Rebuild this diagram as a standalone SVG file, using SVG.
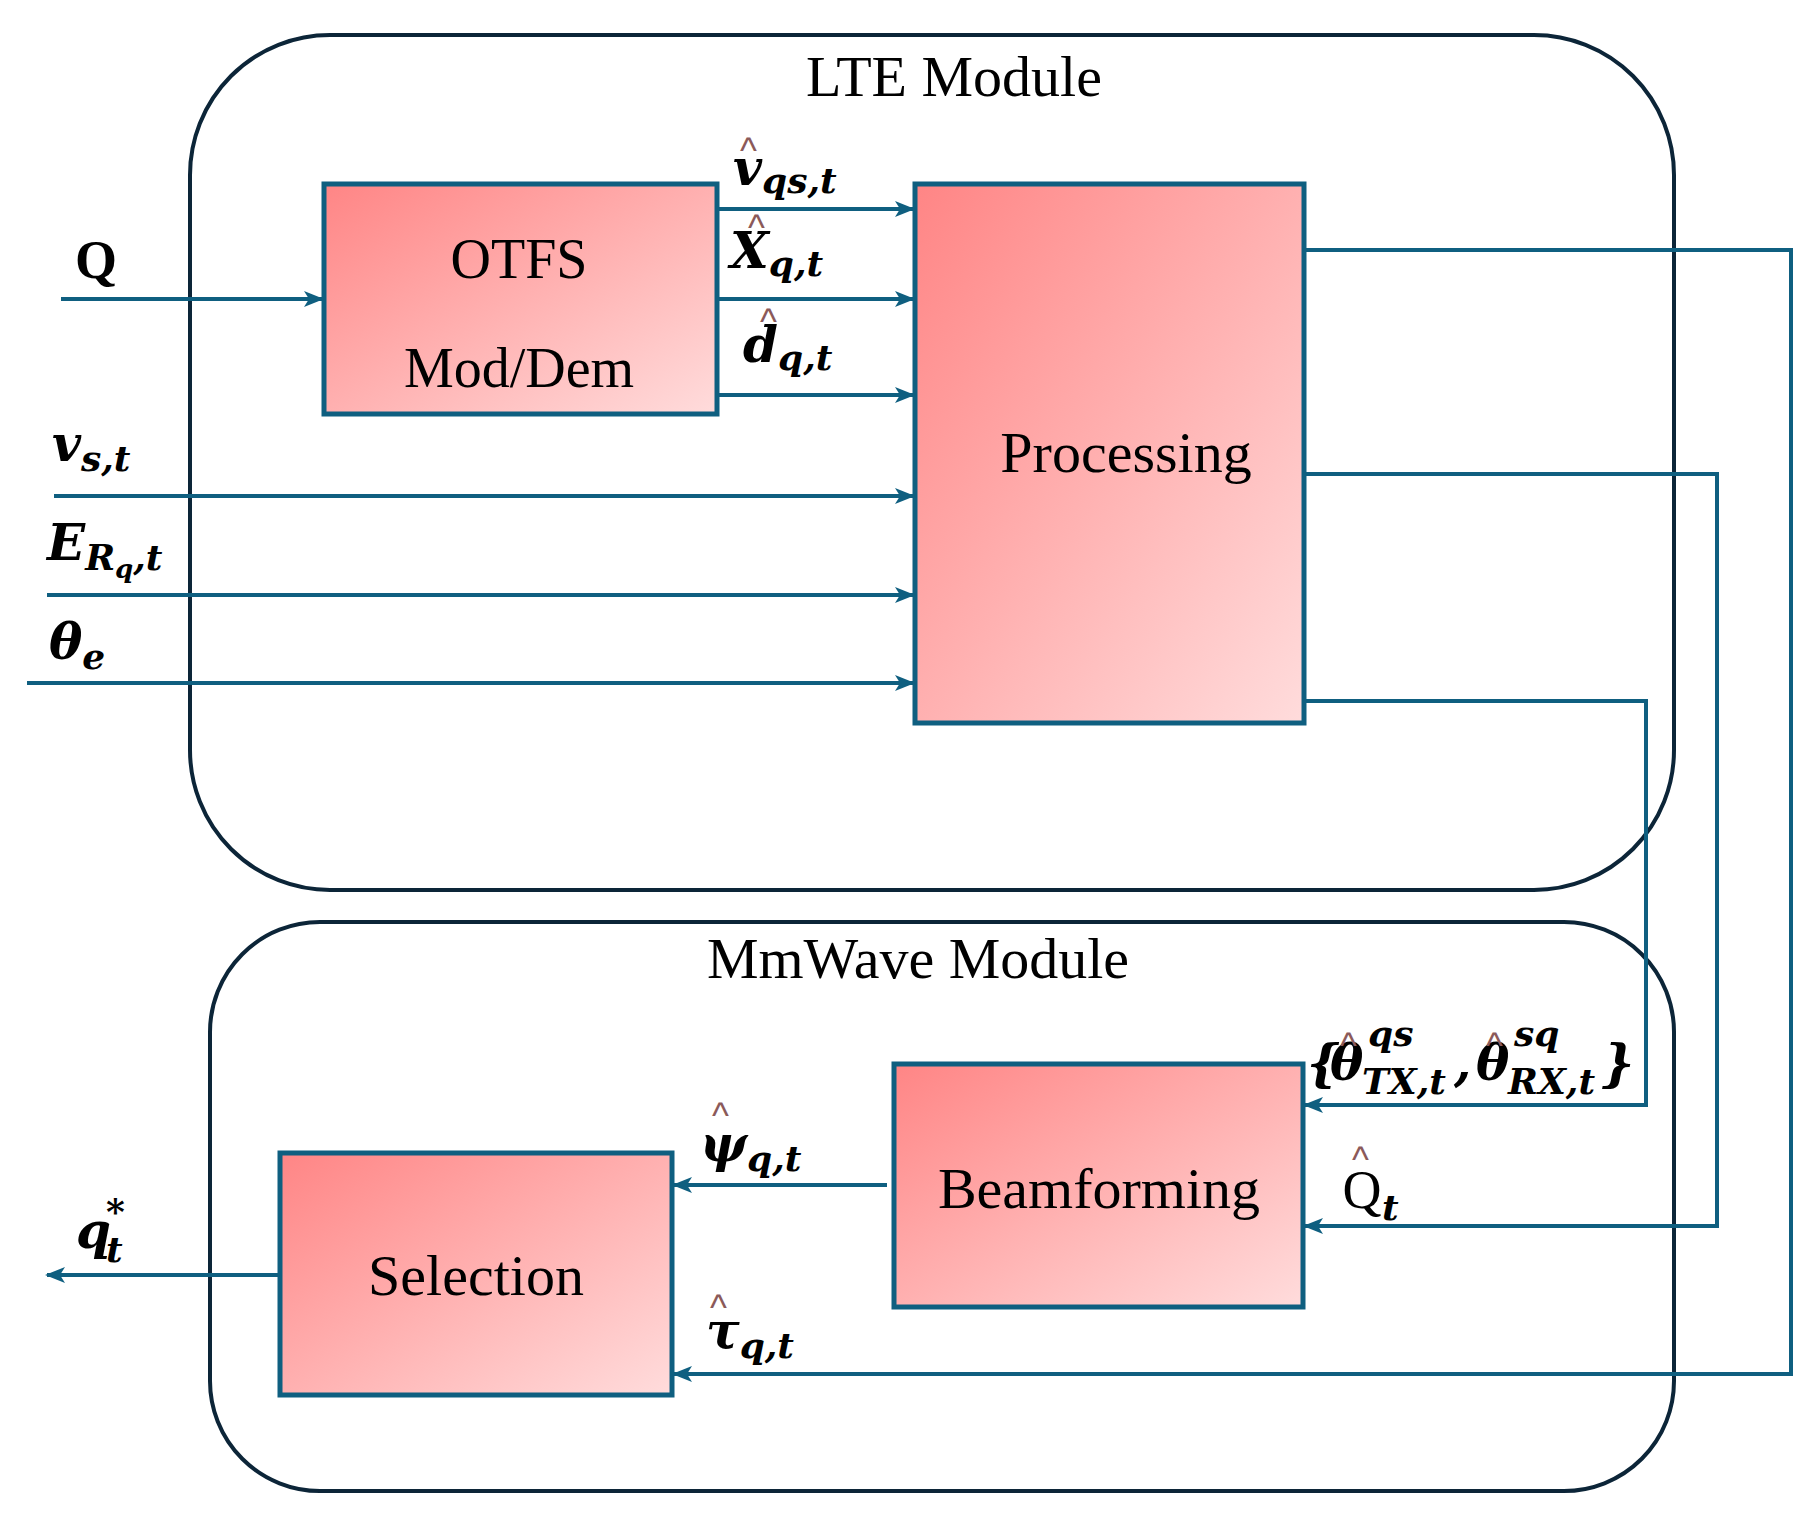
<svg xmlns="http://www.w3.org/2000/svg" width="1820" height="1517" viewBox="0 0 1820 1517">
<defs>
<linearGradient id="g" x1="0" y1="0" x2="1" y2="1"><stop offset="0" stop-color="#ff8585"/><stop offset="1" stop-color="#ffdcdc"/></linearGradient>
<marker id="b" markerWidth="20" markerHeight="20" refX="18" refY="10" orient="auto" markerUnits="userSpaceOnUse" viewBox="0 0 20 20"><path d="M0,2 L20,10 L0,18 L5,10 Z" fill="#0f5f80"/></marker>
</defs>
<style>
.mod{fill:none;stroke:#0c2538;stroke-width:4}
.box{fill:url(#g);stroke:#0f5f80;stroke-width:5}
.t{font-family:"Liberation Serif",serif;fill:#000;text-anchor:middle}
.c{fill:none;stroke:#0f5f80;stroke-width:4}
.m{font-family:"DejaVu Serif",serif;font-style:italic;font-weight:bold;fill:#000;font-size:50px}
.s{font-size:36px}
.h{font-family:"Liberation Sans",sans-serif;fill:#8b5a5a;font-size:36px}
</style>
<rect fill="#fff" width="1820" height="1517"/>
<g id="lte"><rect class="mod" x="190" y="35" width="1484" height="855" rx="140"/><text class="t" x="954" y="96" font-size="58">LTE Module</text></g>
<g id="mmwave"><rect class="mod" x="210" y="922" width="1464" height="569" rx="110"/><text class="t" x="918" y="978" font-size="58">MmWave Module</text></g>
<g id="otfs"><rect class="box" x="324" y="184" width="393" height="230"/><text class="t" x="519" y="278" font-size="56">OTFS</text><text class="t" x="519" y="387" font-size="56">Mod/Dem</text></g>
<g id="processing"><rect class="box" x="915" y="184" width="389" height="539"/><text class="t" x="1126" y="472" font-size="58">Processing</text></g>
<g id="beamforming"><rect class="box" x="894" y="1064" width="409" height="243"/><text class="t" x="1099" y="1208" font-size="58">Beamforming</text></g>
<g id="selection"><rect class="box" x="280" y="1153" width="392" height="242"/><text class="t" x="476" y="1295" font-size="58">Selection</text></g>
<g id="connectors">
<path class="c" marker-end="url(#b)" d="M61,299 H322"/>
<path class="c" marker-end="url(#b)" d="M717,209 H913"/>
<path class="c" marker-end="url(#b)" d="M717,299 H913"/>
<path class="c" marker-end="url(#b)" d="M717,395 H913"/>
<path class="c" marker-end="url(#b)" d="M54,496 H913"/>
<path class="c" marker-end="url(#b)" d="M47,595 H913"/>
<path class="c" marker-end="url(#b)" d="M27,683 H913"/>
<path class="c" marker-end="url(#b)" d="M1304,250 H1791 V1374 H674"/>
<path class="c" marker-end="url(#b)" d="M1304,474 H1717 V1226 H1305"/>
<path class="c" marker-end="url(#b)" d="M1304,701 H1646 V1105 H1305"/>
<path class="c" marker-end="url(#b)" d="M887,1185 H674"/>
<path class="c" marker-end="url(#b)" d="M280,1275 H47"/>
</g>
<g id="labels">
<text class="t" x="96" y="278" font-size="54" font-weight="bold">Q</text>
<text class="m" x="733" y="185">v<tspan class="s" dy="8">qs,t</tspan></text><text class="h" x="740" y="163">^</text>
<text class="m" x="730" y="268">X<tspan class="s" dy="8">q,t</tspan></text><text class="h" x="748" y="240">^</text>
<text class="m" x="743" y="362">d<tspan class="s" dy="8">q,t</tspan></text><text class="h" x="760" y="334">^</text>
<text class="m" x="52" y="461">v<tspan class="s" dy="10">s,t</tspan></text>
<text class="m" x="47" y="560">E<tspan class="s" dy="10">R</tspan><tspan font-size="26px" dy="8">q</tspan><tspan class="s" dy="-8">,t</tspan></text>
<text class="m" x="49" y="659">θ<tspan class="s" dy="10">e</tspan></text>
<text class="m" x="1307" y="1080">{</text>
<text class="m" x="1330" y="1080">θ</text><text class="h" x="1340" y="1058" fill="#000">^</text>
<text class="m s" x="1368" y="1046">qs</text><text class="m s" x="1362" y="1094">TX,t</text><text class="m" x="1454" y="1080">,</text>
<text class="m" x="1476" y="1080">θ</text><text class="h" x="1486" y="1058" fill="#000">^</text>
<text class="m s" x="1514" y="1046">sq</text><text class="m s" x="1508" y="1094">RX,t</text>
<text class="m" x="1602" y="1080">}</text>
<text class="t" x="1362" y="1208" font-size="54">Q</text><text class="m s" x="1382" y="1220">t</text><text class="h" x="1352" y="1172">^</text>
<text class="m" x="700" y="1161">ψ<tspan class="s" dy="10">q,t</tspan></text><text class="h" x="712" y="1128">^</text>
<text class="m" x="706" y="1348">τ<tspan class="s" dy="10">q,t</tspan></text><text class="h" x="710" y="1320">^</text>
<text class="m" x="76" y="1248">q</text><text class="m s" x="106" y="1224">*</text><text class="m s" x="106" y="1262">t</text>
</g>
</svg>
